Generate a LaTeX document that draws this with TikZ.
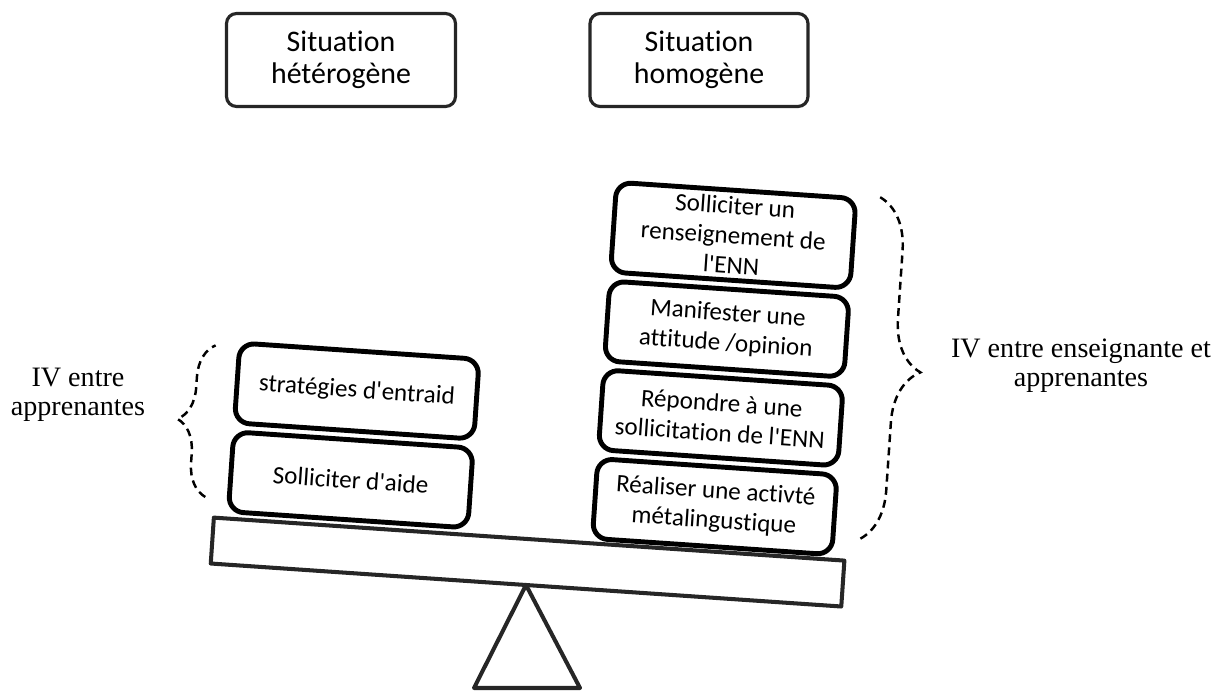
\documentclass[tikz,border=0pt]{standalone}
\usepackage{fontspec}
\setmainfont{Carlito}[Ligatures={TeX,NoCommon}]
\newfontfamily\labelfont{Liberation Serif}
\usepackage{tikz}
\usetikzlibrary{positioning,decorations.pathreplacing}
\tikzset{
  sitbox/.style={rectangle, rounded corners=0.2cm, draw=black!85, line width=1.8pt, align=center, font=\fontsize{17}{18.5}\selectfont},
  stackbox/.style={rectangle, rounded corners=0.3cm, draw=black, line width=2.8pt, align=center, minimum width=4.8cm, minimum height=1.6cm, inner sep=1pt, font=\fontsize{14.3}{17}\selectfont},
  beam/.style={draw=black!85, line width=2.3pt, line join=round},
  bracedash/.style={decorate, line width=1.4pt, dash pattern=on 4.5pt off 3pt},
  sidelabel/.style={align=center, font=\labelfont\fontsize{16}{16.5}\selectfont}
}
\newcommand{\ap}{\textquotesingle}
\begin{document}
\begin{tikzpicture}[x=0.02cm, y=0.02cm]
\useasboundingbox (0,0) rectangle (1226,691);
% the two situations
\node[sitbox, minimum width=4.58cm, minimum height=1.86cm] (het) at (341,631) {Situation\\hétérogène};
\node[sitbox, minimum width=4.36cm, minimum height=1.86cm] (hom) at (699,631) {Situation\\homogène};

% support of the balance
\coordinate (pivot) at (526,106);
\draw[beam] (pivot) -- (474,3) -- (580,3) -- cycle;

\begin{scope}[shift={(pivot)}, rotate=-3.9, transform shape]
\draw[beam] (-316,0) rectangle (316,46);
% left stack
\node[stackbox] (aide) at (-182,93) {Solliciter d\ap aide};
\node[stackbox] (entraid) at (-182,182) {stratégies d\ap entraid};
% right stack
\node[stackbox] (meta) at (183,91) {Réaliser une activté\\métalingustique};
\node[stackbox] (repondre) at (183,180) {Répondre à une\\sollicitation de l\ap ENN};
\node[stackbox] (attitude) at (183,269) {Manifester une\\attitude /opinion};
\node[stackbox, minimum height=1.8cm] (renseign) at (183,363) {Solliciter un\\renseignement de\\l\ap ENN};
% braces
\coordinate (lbot) at (-326,66);
\coordinate (ltop) at (-326,218);
\coordinate (rtop) at (327,411);
\coordinate (rbot) at (327,67);
\draw[bracedash, decoration={brace, amplitude=0.66cm}] (lbot) -- (ltop);
\draw[bracedash, decoration={brace, amplitude=1.04cm}] (rtop) -- (rbot);
\end{scope}

\node[sidelabel] (lab1) at (78,296) {IV entre\\apprenantes};
\node[sidelabel] (lab2) at (1081,325) {IV entre enseignante et\\apprenantes};
\end{tikzpicture}
\end{document}
